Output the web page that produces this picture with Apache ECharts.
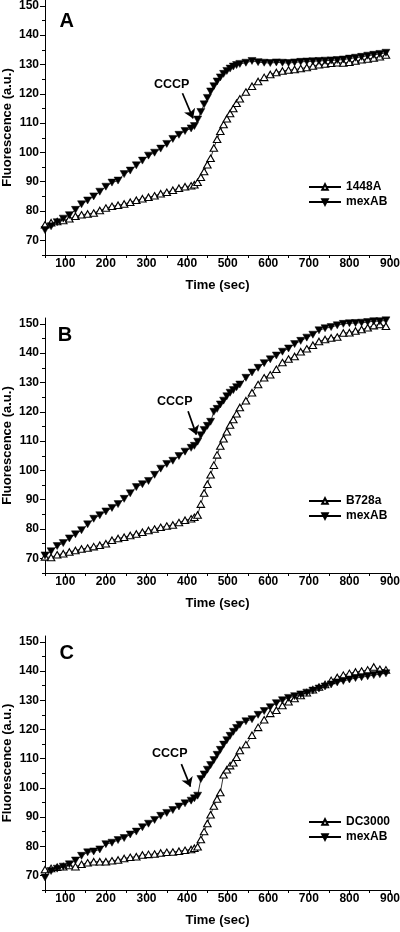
<!DOCTYPE html>
<html><head><meta charset="utf-8">
<script src="https://cdn.jsdelivr.net/npm/echarts@6/dist/echarts.min.js"></script>
<style>html,body{margin:0;padding:0;background:#fff}#c{width:400px;height:932px}</style>
</head><body><div id="c"></div>
<script>
// ---- data ----
const time = [50,65,80,95,110,125,140,155,170,185,200,215,230,245,260,275,290,305,320,335,350,365,380,395,410,
  418,426,434,442,450,458,466,474,482,490,498,506,514,522,530,
  545,560,575,590,605,620,635,650,665,680,695,710,725,740,755,770,785,800,815,830,845,860,875,890];

const a_1448A = [75.3,76,76.4,76.8,77.4,78.2,78.7,79,79.3,80.2,81,81.6,82,82.4,83,83.7,84.2,84.7,85.2,85.9,86.4,87.1,87.8,88.3,88.6,
  89,89.8,91.5,93.5,95.8,98,101.5,104.5,107.2,109.5,111.5,113.3,115,116.8,118.3,
  120.6,122.6,124.2,125.6,126.6,127.3,127.8,128.1,128.3,128.6,129,129.5,129.9,130.2,130.4,130.6,130.5,130.8,131.2,131.6,131.9,132.2,132.6,133.2];
const a_mexAB = [73.5,74.8,76.2,77.4,78.6,80.4,82.3,83.6,85,86.6,88.3,89.7,90.4,92.6,93.8,95.6,97.2,98.9,99.9,101.3,102.9,104.6,106,107.3,108.2,
  109,111.2,113.8,116.4,118.6,120.8,122.6,124.2,125.6,126.8,127.8,128.6,129.3,129.8,130.2,
  130.6,131.2,130.8,130.6,130.5,130.7,130.6,130.5,130.7,130.9,131,131.1,131.2,131.3,131.4,131.5,131.7,132,132.3,132.6,133,133.3,133.6,134];

const b_B728a = [70.5,70.3,71.2,71.6,72.2,72.7,73.2,73.5,74,74.5,75,76.2,76.8,77.2,77.8,78.3,78.9,79.5,80,80.6,81,81.4,82.2,83,83.5,
  84,84.8,88.5,92.3,95.3,98.5,101.8,105.3,108.3,110.8,113.2,115.5,117.4,119.3,121.5,
  123.8,126.5,129.3,131.6,132.6,134.5,136.8,138,138.9,140.5,141.5,142.7,144,144.7,145.2,145.5,146.9,147,147.6,148.1,148.7,149.4,149.8,149.2];
const b_mexAB = [71,72.4,74.2,75.2,76.8,78.2,79.6,81.6,83.5,84.7,86,87.2,88.5,90.3,92.2,94.3,95.3,96.4,98.5,100.6,102.2,103.3,104.9,106.4,107.7,
  108.4,109.8,112,113.8,115.2,116.6,120,121,122.5,123.8,125.3,126.5,127.4,128.4,129.3,
  131.6,133.4,135,136.6,137.9,139.2,140.5,141.6,143.1,144.2,145.3,146.3,147.8,148.5,148.9,149.5,150,150.2,150.3,150.4,150.6,150.9,150.9,151.2];

const c_DC3000 = [72,72.4,72.8,73,73.4,73,73.8,74.3,74.7,74.7,74.7,75,75.3,75.8,76.2,76.4,77,77.2,77.3,77.7,77.9,78,78.3,78.6,78.9,
  79.3,79.8,82.3,85,87.8,90.8,93.8,96.2,98.4,104.5,106.2,107.6,108.6,110.5,112.8,
  114.8,118,120.7,123.3,125.5,126.6,128.2,129.5,130.6,131.6,132.6,133.6,134.5,135.4,136.8,137.8,138.6,139.2,139.7,140,140.4,141.4,140.6,140.4];
const c_mexAB = [69.3,71.5,72.3,73,73.8,75.1,76.7,77.9,78.2,78.9,80.7,81.2,82.1,82.8,84,85,86.5,87.7,89,90.4,91.4,92.4,93.6,94.7,95.6,
  96.4,97.3,103,104.6,106.2,107.8,109.5,111.3,113,114.8,116.3,117.8,119.2,120.5,121.6,
  122.8,123.5,125,126.3,127.6,129,130,130.8,131.4,132,132.6,133.3,134,134.7,135.4,136.1,136.6,137.1,137.6,137.9,138.2,138.6,138.9,139.2];

const strainNames = ['1448A', 'B728a', 'DC3000'];
const mutantName = 'mexAB';
const panelLetters = ['A', 'B', 'C'];
const xMajorTicks = [100,200,300,400,500,600,700,800,900];
const xMinorTicks = [50,150,250,350,450,550,650,750,850];
const yMajorTicks = [70,80,90,100,110,120,130,140,150];
const yMinorTicks = [65,75,85,95,105,115,125,135,145];
// CCCP arrow: [textX, textY, arrowStartX, arrowStartY, arrowEndX, arrowEndY] in data units
const cccpNotes = [
  [362, 123.3, 388.7, 120.2, 414.8, 111.6],
  [369.7, 123.6, 402.5, 120.2, 423, 112.2],
  [357.4, 111.8, 386, 108.1, 408.4, 100.4]
];
const wtValues = [a_1448A, b_B728a, c_DC3000];
const mutValues = [a_mexAB, b_mexAB, c_mexAB];

// ---- layout ----
const FONT = '"Liberation Sans", Arial, sans-serif';
const gridTops = [0, 318, 636];
const gridHeights = [255, 255, 254];
const legendTops = [181, 495, 816];
const letterPos = [[66.7, 21.7], [65, 335], [66.7, 653.3]];

const txt = {color:'#000', fontFamily:FONT, fontWeight:'bold'};
const option = {
  animation: false,
  backgroundColor: '#fff',
  grid: [], xAxis: [], yAxis: [], series: [], legend: [], graphic: []
};

for (let i = 0; i < 3; i++) {
  option.grid.push({left:45, right:10, top:gridTops[i], height:gridHeights[i], containLabel:false, outerBoundsMode:'none'});
  option.xAxis.push({
    type:'value', gridIndex:i, min:50, max:900, position:'bottom',
    axisLine:{show:true, onZero:false, lineStyle:{color:'#000', width:1}},
    axisTick:{show:true, customValues:xMajorTicks, length:5, lineStyle:{color:'#000', width:1}},
    axisLabel:{customValues:xMajorTicks, margin:3, fontSize:12, ...txt},
    splitLine:{show:false},
    name:'Time (sec)', nameLocation:'middle', nameGap:24, nameMoveOverlap:false,
    nameTextStyle:{fontSize:13, ...txt}
  });
  option.xAxis.push({
    type:'value', gridIndex:i, min:50, max:900, position:'bottom', offset:0,
    axisLine:{show:false},
    axisTick:{show:true, customValues:xMinorTicks, length:3, lineStyle:{color:'#000', width:1}},
    axisLabel:{show:false}, splitLine:{show:false}
  });
  option.yAxis.push({
    type:'value', gridIndex:i, min:65, max:152, position:'left',
    axisLine:{show:true, onZero:false, lineStyle:{color:'#000', width:1}},
    axisTick:{show:true, customValues:yMajorTicks, length:5, lineStyle:{color:'#000', width:1}},
    axisLabel:{customValues:yMajorTicks, margin:6, fontSize:12, ...txt},
    splitLine:{show:false},
    name:'Fluorescence (a.u.)', nameLocation:'middle', nameGap:31, nameMoveOverlap:false,
    nameTextStyle:{fontSize:13, ...txt}
  });
  option.yAxis.push({
    type:'value', gridIndex:i, min:65, max:152, position:'left', offset:0,
    axisLine:{show:false},
    axisTick:{show:true, customValues:yMinorTicks, length:3, lineStyle:{color:'#000', width:1}},
    axisLabel:{show:false}, splitLine:{show:false}
  });
  const xi = i * 2, yi = i * 2;
  const note = cccpNotes[i];
  option.series.push({
    type:'line', name:strainNames[i], xAxisIndex:xi, yAxisIndex:yi,
    data: time.map((t, k) => [t, wtValues[i][k]]),
    symbol:'triangle', symbolSize:[7.5,6.5], showAllSymbol:true,
    itemStyle:{color:'#fff', borderColor:'#000', borderWidth:1.1},
    lineStyle:{color:'#000', width:0.8}, silent:true, z:2
  });
  option.series.push({
    type:'line', name:mutantName, xAxisIndex:xi, yAxisIndex:yi,
    data: time.map((t, k) => [t, mutValues[i][k]]),
    symbol:'triangle', symbolRotate:180, symbolSize:[8,7], showAllSymbol:true,
    itemStyle:{color:'#000', borderColor:'#000', borderWidth:0.5},
    lineStyle:{color:'#000', width:0.8}, silent:true, z:3,
    markLine:{
      silent:true, symbol:['none','arrow'], symbolSize:9, animation:false,
      lineStyle:{color:'#000', width:1.7, type:'solid'}, label:{show:false},
      emphasis:{disabled:true},
      data:[[{coord:[note[2], note[3]]}, {coord:[note[4], note[5]]}]]
    },
    markPoint:{
      silent:true, symbol:'circle', symbolSize:1, animation:false,
      itemStyle:{color:'rgba(0,0,0,0)'},
      label:{show:true, position:'inside', formatter:'CCCP', fontSize:12.5, ...txt},
      data:[{coord:[note[0], note[1]]}]
    }
  });
  option.legend.push({
    data:[strainNames[i], mutantName], left:308, top:legendTops[i], orient:'vertical',
    padding:0, itemWidth:32, itemHeight:7, itemGap:3, selectedMode:false,
    textStyle:{fontSize:12, ...txt}
  });
  option.graphic.push({
    type:'text', x:letterPos[i][0], y:letterPos[i][1], silent:true,
    style:{text:panelLetters[i], align:'center', verticalAlign:'middle',
      font:'bold 20px ' + FONT, fill:'#000'}
  });
}

const chart = echarts.init(document.getElementById('c'), null, {renderer:'canvas'});
chart.setOption(option);
</script></body></html>
